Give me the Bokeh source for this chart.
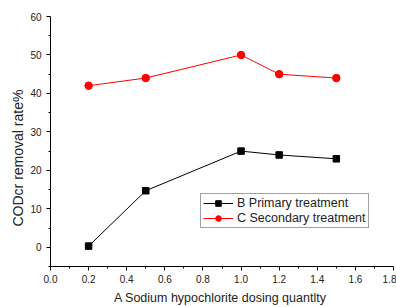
from bokeh.plotting import figure
from bokeh.models import Range1d, FixedTicker, PrintfTickFormatter, Legend, LegendItem, Title
from bokeh.embed import file_html
from bokeh.resources import INLINE

dose = [0.2, 0.5, 1.0, 1.2, 1.5]
primary = [0.3, 14.7, 25.0, 24.0, 23.0]
secondary = [42.0, 44.0, 50.0, 45.0, 44.0]
x_ticks = [0.0, 0.2, 0.4, 0.6, 0.8, 1.0, 1.2, 1.4, 1.6, 1.8]
x_minor = [0.1, 0.3, 0.5, 0.7, 0.9, 1.1, 1.3, 1.5, 1.7]
y_ticks = [0, 10, 20, 30, 40, 50, 60]
y_minor = [-5, 5, 15, 25, 35, 45, 55]
x_title = "A  Sodium hypochlorite dosing quantlty"
y_title = "CODcr removal rate%"

FONT = "Liberation Sans"

p = figure(width=396, height=307, output_backend="svg", toolbar_location=None,
           x_range=Range1d(0, 1.8), y_range=Range1d(-5, 60),
           min_border_left=50, min_border_right=3, min_border_top=16, min_border_bottom=40)
p.outline_line_color = None
p.xgrid.visible = False
p.ygrid.visible = False

p.xaxis.ticker = FixedTicker(ticks=x_ticks, minor_ticks=x_minor)
p.yaxis.ticker = FixedTicker(ticks=y_ticks, minor_ticks=y_minor)
p.xaxis.formatter = PrintfTickFormatter(format="%.1f")

for ax in (p.xaxis, p.yaxis):
    ax.axis_line_color = "black"
    ax.major_tick_line_color = "black"
    ax.minor_tick_line_color = "black"
    ax.major_tick_out = 4
    ax.major_tick_in = 0
    ax.minor_tick_out = 2
    ax.minor_tick_in = 0
    ax.major_label_text_font = FONT
    ax.major_label_text_font_size = "10px"
    ax.major_label_text_color = "#222222"
    ax.axis_label_text_font = FONT
    ax.axis_label_text_font_size = "12.5px"
    ax.axis_label_text_font_style = "normal"
    ax.axis_label_text_color = "#222222"

p.xaxis.axis_label = x_title
p.xaxis.major_label_standoff = 4
p.xaxis.axis_label_standoff = 5
p.yaxis.major_label_standoff = 5

# y title as a side title, offset from the frame bottom like in the reference
ytitle = Title(text=y_title, align="left", offset=40, standoff=4,
               text_font=FONT, text_font_size="14px", text_font_style="normal",
               text_color="#222222")
p.add_layout(ytitle, "left")

l1 = p.line(dose, primary, line_color="black", line_width=1)
m1 = p.scatter(dose, primary, marker="square", size=6.5, fill_color="black", line_color="black")
l2 = p.line(dose, secondary, line_color="#ff0000", line_width=1)
m2 = p.scatter(dose, secondary, marker="circle", size=7.5, fill_color="#ff0000", line_color="#ff0000")

legend = Legend(items=[LegendItem(label="B Primary treatment", renderers=[l1, m1]),
                       LegendItem(label="C Secondary treatment", renderers=[l2, m2])],
                location=(150, 38))
legend.border_line_color = "#444444"
legend.border_line_width = 1
legend.background_fill_alpha = 1
legend.label_text_font = FONT
legend.label_text_font_size = "12.5px"
legend.label_text_color = "#222222"
legend.glyph_width = 30
legend.glyph_height = 14
legend.label_height = 14
legend.spacing = 1
legend.padding = 2
legend.margin = 0
legend.label_standoff = 4
p.add_layout(legend, "center")

open("out.html", "w").write(file_html(p, INLINE))
